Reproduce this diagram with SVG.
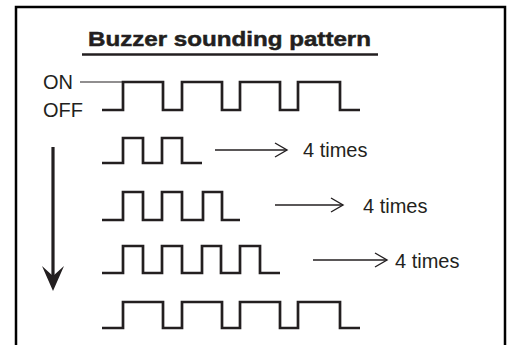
<svg xmlns="http://www.w3.org/2000/svg" width="511" height="345" viewBox="0 0 511 345">
<defs>
<style>
.wave{fill:none;stroke:#231f20;stroke-width:2.7;stroke-linejoin:miter;stroke-linecap:butt}
.arr{fill:none;stroke:#231f20;stroke-width:1.4}
.lbl{font-family:"Liberation Sans",Arial,sans-serif;font-size:20px;fill:#231f20}
.ttl{font-family:"Liberation Sans",Arial,sans-serif;font-size:21px;font-weight:bold;fill:#231f20;stroke:#231f20;stroke-width:0.5}
</style>
<marker id="open" markerWidth="16" markerHeight="16" refX="13" refY="8" orient="auto" markerUnits="userSpaceOnUse">
<path d="M1,1 L13,8 L1,15" fill="none" stroke="#231f20" stroke-width="1.4"/>
</marker>
</defs>
<rect width="511" height="345" fill="#fff"/>
<g id="frame">
<path d="M16,345 V7 H505 V345" fill="none" stroke="#000" stroke-width="2.5"/>
</g>
<g id="title">
<text class="ttl" x="88" y="46" textLength="283" lengthAdjust="spacingAndGlyphs">Buzzer sounding pattern</text>
<line x1="82" y1="54.5" x2="378" y2="54.5" stroke="#231f20" stroke-width="2.5"/>
</g>
<g id="levels">
<text class="lbl" x="43" y="89">ON</text>
<text class="lbl" x="43" y="117">OFF</text>
<line x1="80" y1="82" x2="123" y2="82" stroke="#231f20" stroke-width="1.2"/>
</g>
<g id="pattern0">
<path class="wave" d="M102,110 H123 V82 H163 V110 H182 V82 H222 V110 H240 V82 H280 V110 H298 V82 H340 V110 H360"/>
</g>
<g id="pattern1">
<path class="wave" d="M102,163 H123 V138 H143 V163 H162 V138 H182 V163 H202"/>
<text class="lbl" x="303" y="157">4 times</text>
</g>
<g id="pattern2">
<path class="wave" d="M102,220 H123 V192 H143 V220 H162 V192 H182 V220 H203 V192 H222 V220 H240"/>
<text class="lbl" x="363" y="213">4 times</text>
</g>
<g id="pattern3">
<path class="wave" d="M102,273 H123 V246 H143 V273 H162 V246 H182 V273 H202 V246 H221 V273 H240 V246 H260 V273 H280"/>
<text class="lbl" x="395" y="268">4 times</text>
</g>
<g id="pattern4">
<path class="wave" d="M102,328 H123 V302 H163 V328 H182 V302 H222 V328 H240 V302 H280 V328 H298 V302 H340 V328 H360"/>
</g>
<g id="connectors">
<line class="arr" x1="215" y1="150" x2="287" y2="150" marker-end="url(#open)"/>
<line class="arr" x1="275" y1="205" x2="343" y2="205" marker-end="url(#open)"/>
<line class="arr" x1="313" y1="260" x2="387" y2="260" marker-end="url(#open)"/>
<line x1="53" y1="147" x2="53" y2="280" stroke="#231f20" stroke-width="3.2"/>
<path d="M53,291 L42,266 L53,276 L64,266 Z" fill="#231f20"/>
</g>
</svg>
